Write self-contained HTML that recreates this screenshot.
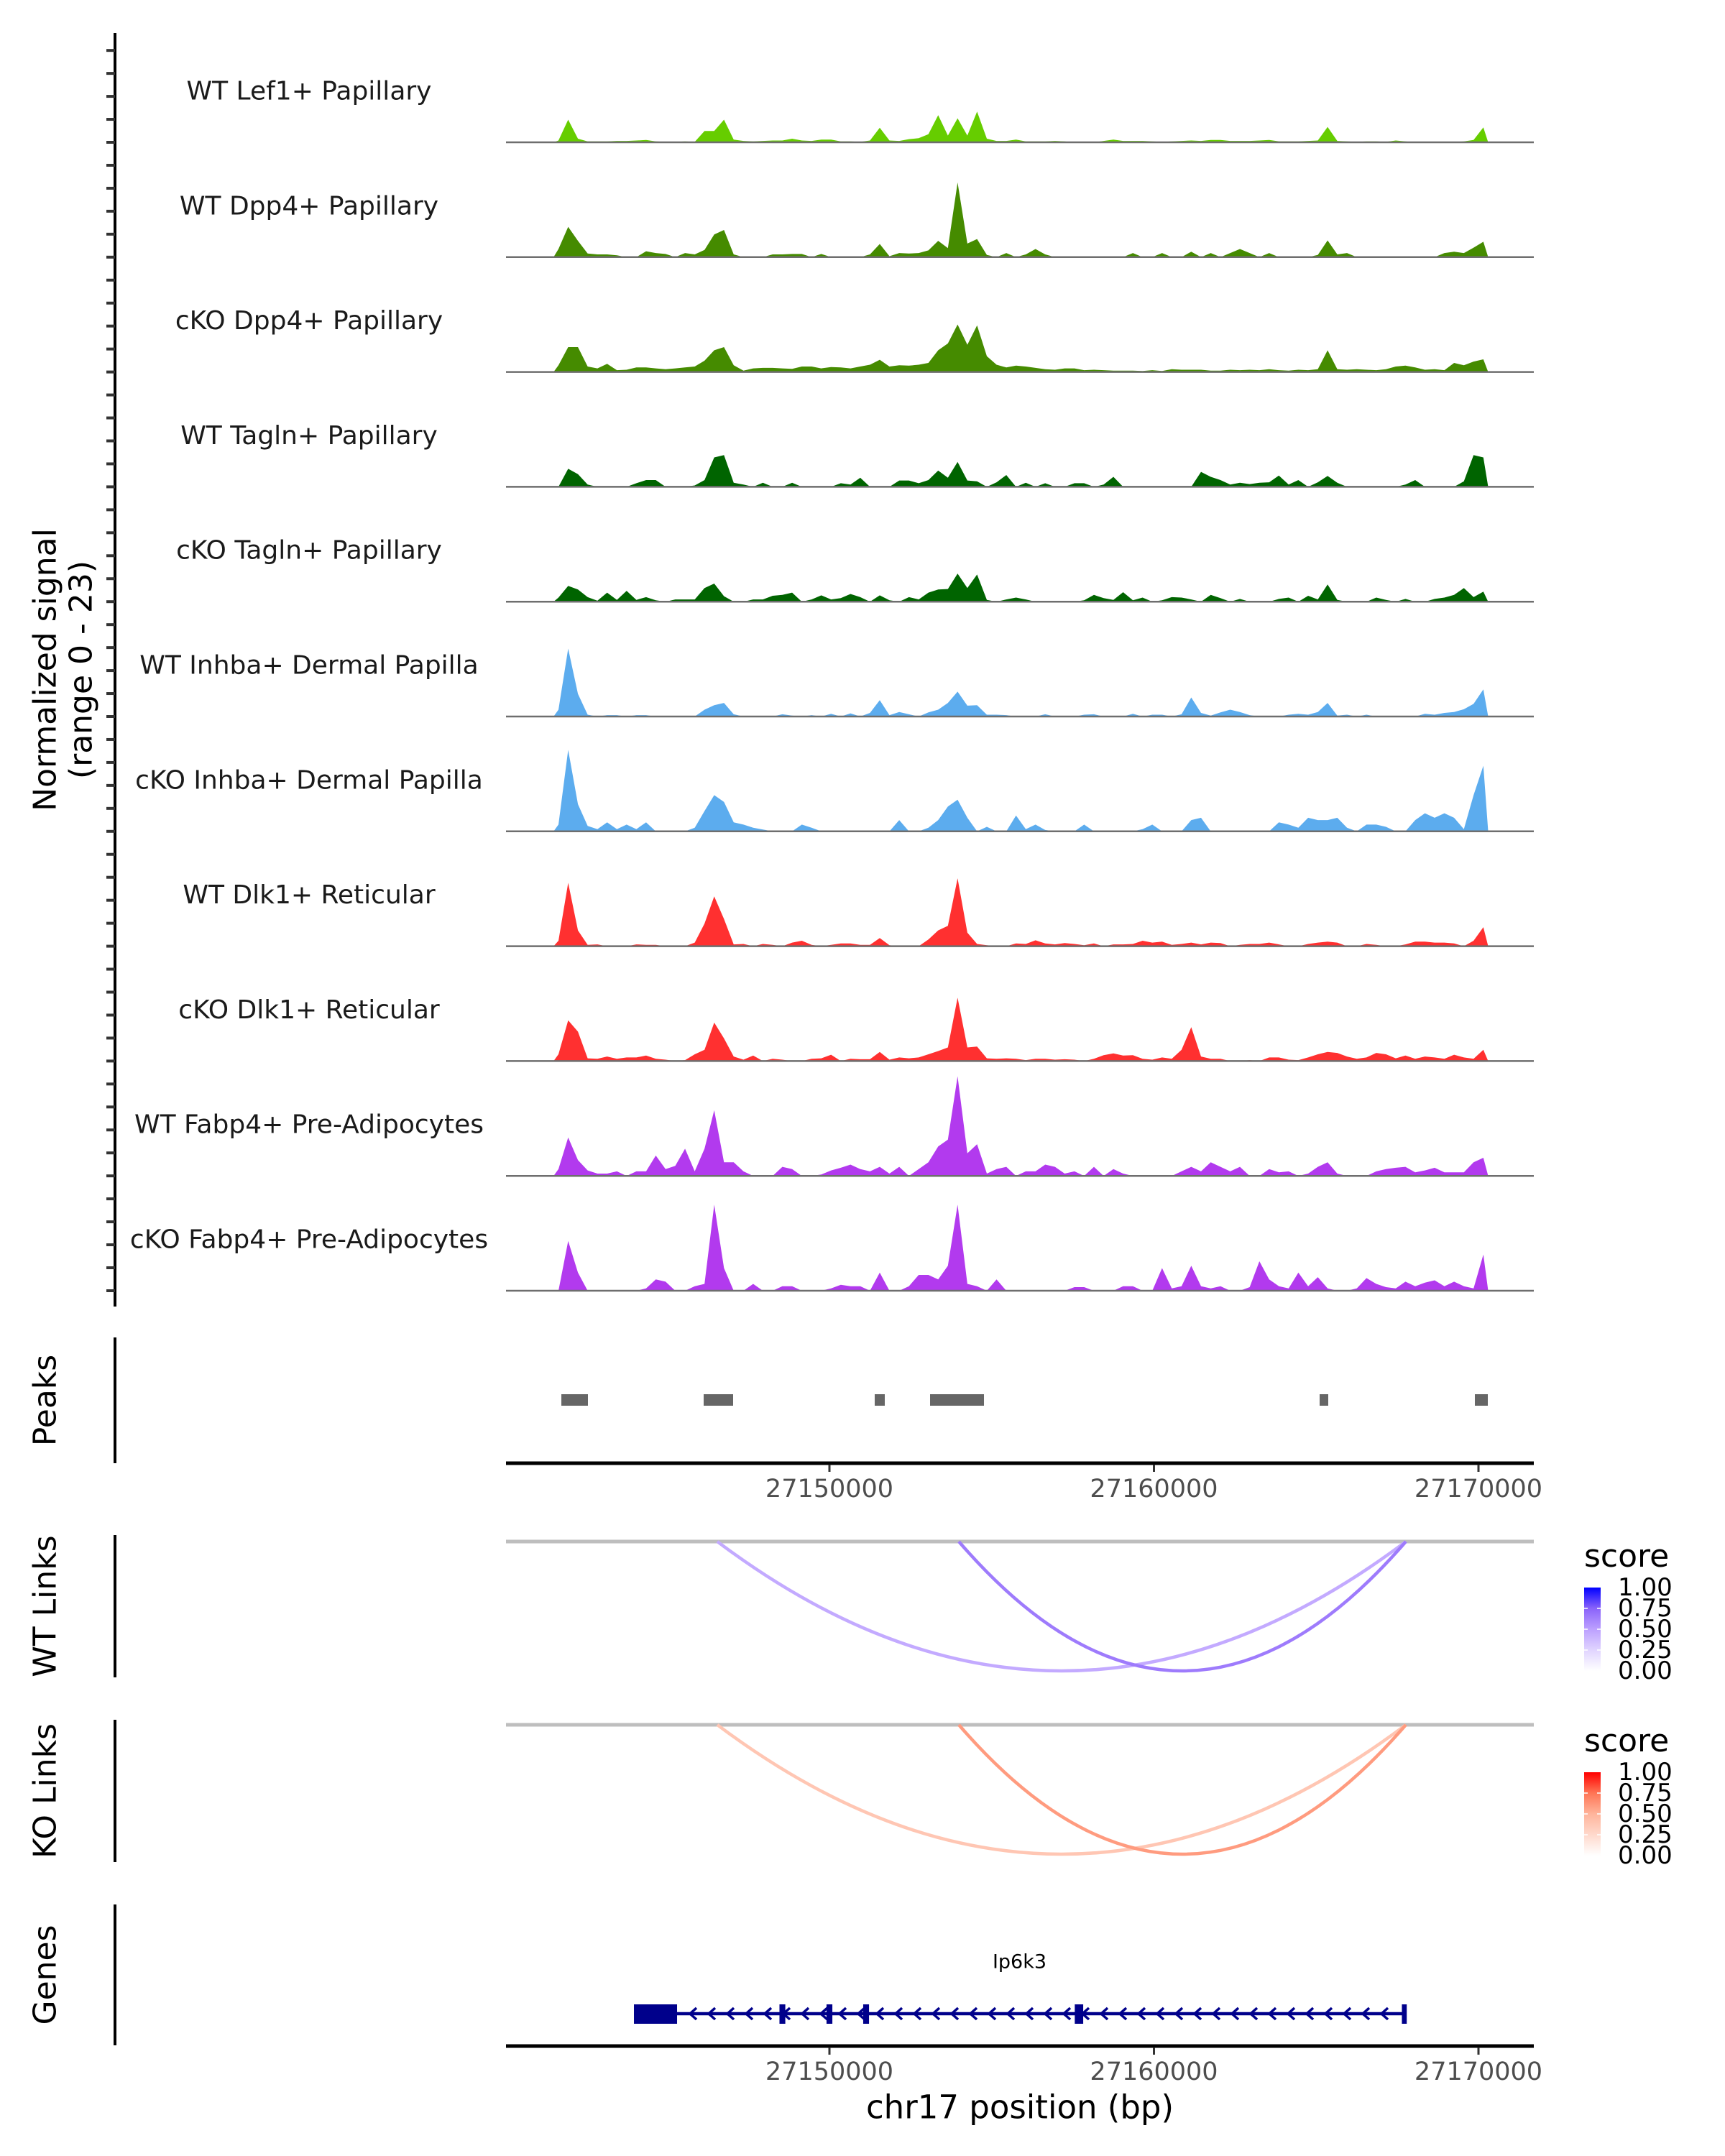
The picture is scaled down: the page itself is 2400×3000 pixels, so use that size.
<!DOCTYPE html>
<html><head><meta charset="utf-8"><title>Coverage plot chr17 Ip6k3</title>
<style>
html,body{margin:0;padding:0;background:#fff;}
svg{display:block;font-family:"DejaVu Sans","Liberation Sans",sans-serif;}
</style></head>
<body>
<svg id="fig" xmlns="http://www.w3.org/2000/svg" width="2400" height="3000" viewBox="0 0 2400 3000">
<rect x="0" y="0" width="2400" height="3000" fill="#fff"/>
<g id="tracks"></g>
<g id="leftaxis"></g>
<text transform="translate(63,932) rotate(-90)" text-anchor="middle" dominant-baseline="central" font-size="44" fill="#000">Normalized signal</text>
<text transform="translate(113,932) rotate(-90)" text-anchor="middle" dominant-baseline="central" font-size="44" fill="#000">(range 0 - 23)</text>
<g id="peaks"></g>
<g id="links"></g>
<g id="genes"></g>
</svg>
<script>
// ---------- data ----------
const trackNames = ["WT Lef1+ Papillary","WT Dpp4+ Papillary","cKO Dpp4+ Papillary","WT Tagln+ Papillary","cKO Tagln+ Papillary","WT Inhba+ Dermal Papilla","cKO Inhba+ Dermal Papilla","WT Dlk1+ Reticular","cKO Dlk1+ Reticular","WT Fabp4+ Pre-Adipocytes","cKO Fabp4+ Pre-Adipocytes"];
const trackColors = ["#66cd00","#458b00","#458b00","#006400","#006400","#5cacee","#5cacee","#ff3030","#ff3030","#b23aee","#b23aee"];
const binStart = 27141500;
const binSize = 300;
const sigLef1WT = [0.4,5.0,0.8,0.2,0.2,0.2,0.3,0.3,0.4,0.5,0.2,0.1,0.1,0.2,0.1,2.5,2.5,5.0,0.6,0.3,0.2,0.3,0.4,0.4,0.8,0.4,0.3,0.6,0.6,0.2,0.2,0.1,0.4,3.2,0.4,0.3,0.7,0.9,1.8,6.0,1.5,5.3,1.5,6.8,0.8,0.3,0.3,0.6,0.2,0.2,0.2,0.3,0.2,0,0,0,0.3,0.6,0.3,0.3,0.3,0.2,0.1,0.2,0.3,0.4,0.3,0.5,0.5,0.3,0.3,0.3,0.4,0.5,0.2,0.2,0.2,0.3,0.4,3.4,0.3,0.2,0.1,0.2,0.2,0.1,0.4,0.2,0,0,0.1,0.1,0.1,0.2,0.5,3.3];
const sigDpp4WT = [1.8,6.7,3.6,0.8,0.6,0.6,0.4,0,0,1.3,0.9,0.7,0,0.9,0.6,1.6,5.0,6.0,0.6,0,0,0,0.6,0.6,0.7,0.7,0,0.7,0,0,0,0,0.6,2.9,0.2,0.9,0.8,0.9,1.5,3.6,2.0,16.5,3.0,4.0,0.5,0,0.9,0,0.6,1.8,0.6,0,0,0,0,0,0,0,0,0.9,0,0,0.9,0,0,1.2,0,0.9,0,0.9,1.8,0.9,0,0.9,0,0,0,0,0.5,3.7,0.6,0.9,0,0,0,0,0,0,0,0,0,0.9,1.2,0.9,2.1,3.4];
const sigDpp4KO = [1.5,5.5,5.5,1.2,0.8,1.8,0.4,0.5,1.0,1.0,0.8,0.6,0.8,1.0,1.2,2.5,4.8,5.5,1.5,0.3,0.8,0.9,0.9,0.8,0.7,1.2,1.2,0.8,1.1,1.0,0.8,1.2,1.6,2.7,1.2,1.5,1.4,1.6,2.0,4.8,6.3,10.5,6.0,10.3,3.5,1.6,1.0,1.4,1.2,0.9,0.6,0.5,0.8,0.8,0.4,0.5,0.4,0.3,0.3,0.3,0.2,0.4,0.2,0.6,0.5,0.5,0.5,0.3,0.3,0.5,0.4,0.5,0.4,0.6,0.4,0.3,0.5,0.4,0.6,4.8,0.6,0.5,0.6,0.5,0.4,0.6,1.2,1.4,1.0,0.5,0.6,0.4,2.0,1.5,2.3,2.8];
const sigTaglnWT = [0,4.0,2.8,0.5,0,0,0,0,0.8,1.5,1.5,0,0,0,0.3,1.5,6.5,7.0,0.9,0.5,0,0.9,0,0,0.9,0,0,0,0,0.8,0.5,2.0,0,0,0,1.4,1.4,0.8,1.5,3.6,2.0,5.5,1.4,1.2,0,1.0,2.6,0,0.9,0,0.8,0,0,0.8,0.8,0,0.5,2.2,0,0,0,0,0,0,0,0,3.3,2.2,1.5,0.5,0.9,0.6,0.9,1.0,2.5,0.5,1.5,0,1.0,2.4,0.9,0,0,0,0,0,0,0.5,1.5,0,0,0,0,1.2,7.0,6.5];
const sigTaglnKO = [0.9,3.5,2.7,1.0,0.2,2.0,0.4,2.4,0.4,1.0,0.3,0,0.5,0.5,0.5,3.0,4.0,1.2,0,0,0.5,0.5,1.3,1.5,2.0,0,0.5,1.4,0.5,0.8,1.7,1.0,0,1.4,0.3,0,1.0,0.5,2.0,2.7,2.8,6.2,3.0,6.0,0.4,0,0.5,0.9,0.5,0,0,0,0,0,0.3,1.5,0.8,0.4,2.1,0.3,0.9,0,0.3,1.0,0.9,0.5,0,1.5,0.8,0,0.6,0,0,0,0.6,0.9,0,1.3,0.5,3.8,0.4,0,0,0,0.9,0.4,0,0.6,0,0,0.6,0.9,1.5,3.0,1.0,2.2];
const sigInhbaWT = [1.5,15.0,5.0,0.4,0,0.3,0.3,0,0.3,0.3,0,0,0,0,0,1.5,2.5,3.0,0.5,0,0,0,0,0.5,0.2,0,0.3,0,0.6,0,0.7,0,0.8,3.6,0.3,1.0,0.5,0,0.9,1.5,3.0,5.5,2.4,2.5,0.4,0.4,0.3,0,0,0,0.5,0,0,0,0.4,0.5,0,0,0,0.6,0,0.4,0.4,0,0.5,4.2,0.8,0.2,0.9,1.5,1.0,0.3,0,0,0,0.4,0.6,0.4,1.0,3.0,0.2,0.4,0,0.4,0,0,0,0,0,0.6,0.4,0.8,1.0,1.6,2.8,6.0];
const sigInhbaKO = [1.5,18.0,6.0,1.2,0.5,2.0,0.5,1.5,0.5,2.0,0,0,0,0,0.8,4.5,8.0,6.5,2.0,1.5,0.8,0.4,0,0,0,1.5,0.8,0,0,0,0,0,0,0,0,2.5,0,0,0.8,2.5,5.5,7.0,3.0,0,1.0,0,0,3.5,0.5,1.5,0.3,0,0,0,1.5,0,0,0,0,0,0.5,1.5,0,0,0,2.5,3.0,0,0,0,0,0,0,0,2.0,1.5,0.8,3.0,2.5,2.5,3.0,0.8,0,1.5,1.5,1.0,0,0,2.5,4.0,3.0,4.0,3.0,0.5,8.0,14.5];
const sigDlk1WT = [1.2,14.0,3.5,0.3,0.4,0,0,0,0.4,0.3,0.3,0,0,0,0.8,5.0,11.0,6.0,0.4,0.5,0,0.5,0.3,0,0.8,1.2,0.3,0,0.3,0.6,0.6,0.3,0.3,1.8,0.2,0,0,0,1.5,3.5,4.5,15.0,3.0,0.5,0.2,0,0,0.6,0.5,1.3,0.6,0.4,0.7,0.5,0.2,0.6,0,0.4,0.4,0.5,1.2,0.8,1.0,0.3,0.5,0.8,0.4,0.8,0.7,0,0.3,0.5,0.5,0.8,0.4,0,0,0.5,0.8,1.0,0.8,0,0,0.5,0.3,0,0,0.4,1.0,1.0,0.8,0.8,0.6,0,1.2,4.2];
const sigDlk1KO = [1.5,9.0,6.5,0.6,0.5,1.0,0.5,0.8,0.8,1.2,0.5,0.3,0,0.2,1.5,2.5,8.5,5.0,1.0,0.3,1.2,0,0.5,0.3,0,0,0.5,0.6,1.4,0,0.5,0.4,0.4,2.0,0.3,0.8,0.6,0.8,1.5,2.2,3.0,14.0,3.0,3.2,0.6,0.5,0.6,0.5,0.2,0.5,0.5,0.3,0.4,0.3,0,0.5,1.3,1.7,1.2,1.3,0.5,0.3,0.8,0.5,2.5,7.5,1.0,0.5,0.5,0,0,0.2,0,0.8,0.8,0.3,0.2,0.8,1.5,2.0,1.8,1.0,0.5,0.8,1.8,1.5,0.6,1.2,0.5,1.0,0.8,0.5,1.4,0.8,0.5,2.5];
const sigFabp4WT = [1.5,8.5,3.5,1.2,0.5,0.5,1.0,0,1.0,1.0,4.5,1.5,2.2,6.0,1.0,6.0,14.5,3.0,3.0,1.0,0,0,0,2.0,1.5,0,0,0.3,1.2,1.8,2.5,1.5,1.0,2.0,0.5,2.0,0,1.5,3.0,6.5,8.0,22.0,5.0,7.0,0.5,1.5,2.0,0,1.0,1.0,2.5,2.0,0.5,1.0,0,2.0,0,1.5,0.5,0,0,0,0,0,1.0,2.0,1.0,3.0,2.0,1.0,2.0,0,0,1.5,0.8,1.0,0,0.5,2.0,3.0,0.5,0,0,0,1.0,1.5,1.8,2.0,0.8,1.2,1.8,0.8,0.8,0.8,3.0,4.0];
const sigFabp4KO = [0,11.0,4.0,0,0,0,0,0,0,0.5,2.5,2.0,0,0,1.0,1.5,19.0,5.0,0,0,1.5,0,0,1.0,1.0,0,0,0,0.5,1.3,1.0,1.0,0,4.0,0,0,1.0,3.5,3.5,2.5,5.5,19.0,1.5,1.0,0,2.5,0,0,0,0,0,0,0,0.8,0.8,0,0,0,1.0,1.0,0,0,5.0,0.5,1.0,5.5,1.0,0.5,1.0,0,0,0.8,6.5,2.5,1.0,0.5,4.0,1.0,3.0,0.5,0,0,0.5,2.8,1.5,0.8,0.5,2.0,1.0,1.8,2.3,1.0,2.0,1.0,0.5,8.0];
const signals = [sigLef1WT,sigDpp4WT,sigDpp4KO,sigTaglnWT,sigTaglnKO,sigInhbaWT,sigInhbaKO,sigDlk1WT,sigDlk1KO,sigFabp4WT,sigFabp4KO];

const peakStarts = [27141739,27146124,27151395,27153101,27165105,27169889];
const peakEnds   = [27142558,27147032,27151705,27154762,27165371,27170288];

const linkStarts = [27146545,27153987];
const linkEnds   = [27167763,27167763];
const wtScores   = [0.45,0.65];
const koScores   = [0.38,0.60];

const geneName = "Ip6k3";
const geneStart = 27143976;
const geneEnd = 27167741;
const utrStarts = [27143976];
const utrEnds   = [27145305];
const exonStarts = [27148460,27149910,27151040,27157560,27167640];
const exonEnds   = [27148640,27150090,27151220,27157820,27167790];

const xTicks = [27150000,27160000,27170000];
const legendTicks = [0,0.25,0.5,0.75,1];

// ---------- scales ----------
const NS="http://www.w3.org/2000/svg";
const PX0=704, PX1=2134;
function xs(bp){return 1154+(bp-27150000)*0.04515;}
const base0=198, trackStep=159.8, unitPx=6.3;
function ys(k,v){return base0+trackStep*k - v*unitPx;}
function mk(tag,attrs,parent){const e=document.createElementNS(NS,tag);for(const k in attrs)e.setAttribute(k,attrs[k]);parent.appendChild(e);return e;}

// ---------- coverage tracks ----------
const gT=document.getElementById('tracks');
signals.forEach((arr,k)=>{
  const g=mk('g',{},gT);
  
  
  const base=ys(k,0);
  let d='M'+xs(binStart).toFixed(1)+','+base;
  arr.forEach((v,i)=>{const x=xs(binStart+(i+0.5)*binSize);d+=' L'+x.toFixed(1)+','+ys(k,v).toFixed(1);});
  d+=' L'+xs(binStart+arr.length*binSize).toFixed(1)+','+base+' Z';
  const p=mk('path',{d:d,fill:trackColors[k],stroke:'none'},g);
  
  
  const l=mk('line',{x1:PX0,x2:PX1,y1:base,y2:base,stroke:'#6e6e6e','stroke-width':2.5},g);
  
  
  const t=mk('text',{x:430,y:base-71,'text-anchor':'middle','dominant-baseline':'central','font-size':36,fill:'#1a1a1a'},g);
  t.textContent=trackNames[k];
  
  
});

// ---------- left axis ----------
const gA=document.getElementById('leftaxis');
mk('line',{x1:160,x2:160,y1:46,y2:1818,stroke:'#000','stroke-width':4},gA);
for(let j=-4;j<=50;j++){
  const y=base0+j*trackStep/5;
  const tk=mk('line',{x1:148,x2:160,y1:y,y2:y,stroke:'#333','stroke-width':4},gA);
  
  
}

// ---------- side panel axes & labels ----------
const side=[["Peaks",1861,2036],["WT Links",2136,2334],["KO Links",2393,2591],["Genes",2650,2846]];
const gP=document.getElementById('peaks');
side.forEach(s=>{
  const ax=mk('line',{x1:160,x2:160,y1:s[1],y2:s[2],stroke:'#000','stroke-width':4},gP);
  
  
  const t=mk('text',{transform:'translate(63,'+((s[1]+s[2])/2)+') rotate(-90)','text-anchor':'middle','dominant-baseline':'central','font-size':44,fill:'#000'},gP);
  t.textContent=s[0];
  
  
});
peakStarts.forEach((s,i)=>{
  const r=mk('rect',{x:xs(s),y:1940,width:xs(peakEnds[i])-xs(s),height:16,fill:'#666'},gP);
  
  
});

// ---------- x axes ----------
function xAxis(y,parent){
  mk('line',{x1:PX0,x2:PX1,y1:y,y2:y,stroke:'#000','stroke-width':5},parent);
  xTicks.forEach(v=>{
    const x=xs(v);
    mk('line',{x1:x,x2:x,y1:y+2,y2:y+12,stroke:'#333','stroke-width':3},parent);
    const t=mk('text',{x:x,y:y+36,'text-anchor':'middle','dominant-baseline':'central','font-size':35,fill:'#4d4d4d'},parent);
    t.textContent=String(v);
    
    
  });
}
xAxis(2036,gP);

// ---------- links ----------
const gL=document.getElementById('links');
const wtStops=[[255,255,255],[224,212,255],[188,160,255],[138,99,250],[0,0,255]];
const koStops=[[255,255,255],[255,217,204],[255,180,155],[255,117,85],[255,0,0]];
function col(stops,v){const p=v*4,i=Math.min(3,Math.floor(p)),f=p-i;const c=stops[i].map((a,j)=>Math.round(a+(stops[i+1][j]-a)*f));return 'rgb('+c.join(',')+')';}
function linkPanel(base,scores,stops,legY,nm){
  const g=mk('g',{},gL);
  
  
  mk('line',{x1:PX0,x2:PX1,y1:base,y2:base,stroke:'#bebebe','stroke-width':5},g);
  linkStarts.forEach((s,i)=>{
    const x0=xs(s),x1=xs(linkEnds[i]);
    const p=mk('path',{d:'M'+x0+','+base+' Q'+((x0+x1)/2)+','+(base+360)+' '+x1+','+base,fill:'none',stroke:col(stops,scores[i]),'stroke-width':4.5},g);
    
    
  });
  const lg=mk('g',{},g);
  
  
  const t=mk('text',{x:2204,y:legY,'font-size':44,fill:'#000'},lg);
  t.textContent='score';
  const top=legY+29,h=116;
  const gid='grad'+nm;
  const defs=mk('defs',{},lg);
  const gr=mk('linearGradient',{id:gid,x1:0,y1:1,x2:0,y2:0},defs);
  for(let i=0;i<=4;i++){mk('stop',{offset:i/4,'stop-color':col(stops,i/4)},gr);}
  mk('rect',{x:2204,y:top,width:23,height:h,fill:'url(#'+gid+')'},lg);
  legendTicks.forEach(v=>{
    const y=top+h-v*h;
    if(v>0&&v<1){mk('line',{x1:2204,x2:2209,y1:y,y2:y,stroke:'#fff','stroke-width':1.5},lg);mk('line',{x1:2222,x2:2227,y1:y,y2:y,stroke:'#fff','stroke-width':1.5},lg);}
    const lt=mk('text',{x:2251,y:y,'dominant-baseline':'central','font-size':34,fill:'#000'},lg);
    lt.textContent=v.toFixed(2);
  });
}
linkPanel(2145,wtScores,wtStops,2180,'wt-links');
linkPanel(2400,koScores,koStops,2437,'ko-links');

// ---------- genes ----------
const gG=document.getElementById('genes');
const gy=2802, navy='#00008b';
const gl=mk('line',{x1:xs(geneStart),x2:xs(geneEnd),y1:gy,y2:gy,stroke:navy,'stroke-width':4.5},gG);


for(let x=xs(utrEnds[0])+22;x<xs(geneEnd)-6;x+=26){
  mk('path',{d:'M'+(x+5)+','+(gy-8)+' L'+(x-4)+','+gy+' L'+(x+5)+','+(gy+8),fill:'none',stroke:navy,'stroke-width':3.5},gG);
}
utrStarts.forEach((s,i)=>{
  const r=mk('rect',{x:xs(s),y:gy-13,width:xs(utrEnds[i])-xs(s),height:27,fill:navy},gG);
  
  
});
exonStarts.forEach((s,i)=>{
  const r=mk('rect',{x:xs(s),y:gy-13,width:Math.max(5,xs(exonEnds[i])-xs(s)),height:27,fill:navy},gG);
  
  
});
const gn=mk('text',{x:(xs(geneStart)+xs(geneEnd))/2,y:2730,'text-anchor':'middle','dominant-baseline':'central','font-size':27,fill:'#000'},gG);
gn.textContent=geneName;


xAxis(2847,gG);
const xt=mk('text',{x:1419,y:2932,'text-anchor':'middle','dominant-baseline':'central','font-size':45,fill:'#000'},gG);
xt.textContent='chr17 position (bp)';


</script>
</body></html>
